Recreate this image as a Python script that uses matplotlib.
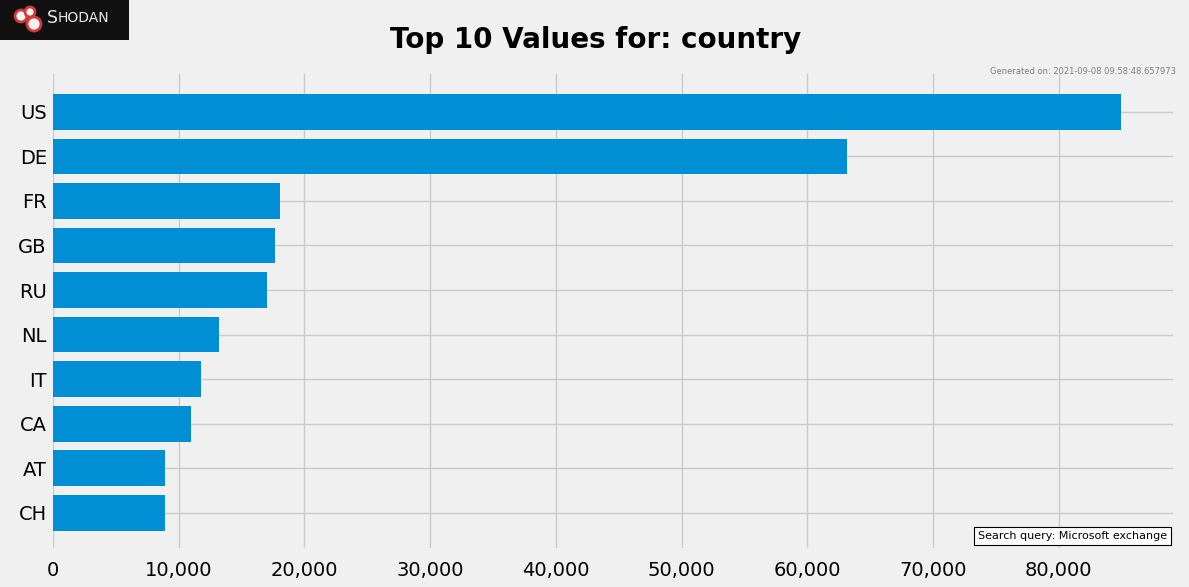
import matplotlib as mpl
mpl.use("Agg")
import matplotlib.pyplot as plt
from matplotlib.patches import Rectangle, Circle
from matplotlib.ticker import FuncFormatter

countries = ["US", "DE", "FR", "GB", "RU", "NL", "IT", "CA", "AT", "CH"]
counts = [85000, 63200, 18050, 17650, 17050, 13200, 11800, 11000, 8900, 8900]
generated = "Generated on: 2021-09-08 09:58:48.657973"
query = "Search query: Microsoft exchange"

plt.style.use("fivethirtyeight")
fig = plt.figure(figsize=(11.89, 5.87), dpi=100, facecolor="#f0f0f0")
ax = fig.add_axes([53/1189, 1-548/587, 1120/1189, 475/587])
ax.set_facecolor("#f0f0f0")

ax.barh(countries, counts, height=0.8, color="#008fd5", zorder=3)
ax.set_ylim(9.79, -0.87)
ax.set_xlim(0, 89100)
ax.xaxis.set_major_formatter(FuncFormatter(lambda v, p: f"{int(v):,}"))
ax.tick_params(axis="both", labelsize=14, length=0)
ax.tick_params(axis="x", pad=9)
ax.tick_params(axis="y", pad=4.5)
ax.grid(True, color="#cbcbcb", lw=1.0, zorder=0)
for s in ax.spines.values():
    s.set_visible(False)

fig.text(596/1189, 1-40/587, "Top 10 Values for: country", ha="center", va="center",
         fontsize=20, fontweight="bold")
fig.text(1176/1189, 1-71/587, generated, ha="right", va="center", fontsize=6, color="#808080")
ax.text(0.995, 0.015, query, transform=ax.transAxes, ha="right", va="bottom", fontsize=8,
        bbox=dict(facecolor="white", edgecolor="black", boxstyle="square,pad=0.35", lw=0.8), zorder=5)

# shodan logo box
fig.patches.append(Rectangle((0, 1-40/587), 129/1189, 40/587, transform=fig.transFigure,
                             facecolor="#111111", edgecolor="none"))
for cx, cy, r in [(21, 16, 6), (30, 12, 5), (34, 24, 7)]:
    fig.patches.append(Circle((cx, 587-cy), r, transform=None, facecolor="#f4f4f4",
                              edgecolor="#d43a3a", lw=2.0))
fig.text(47/1189, 1-18/587, "S", color="#e8e8e8", fontsize=12.5, va="center")
fig.text(58/1189, 1-18.5/587, "HODAN", color="#e8e8e8", fontsize=10, va="center")

fig.savefig("out.png", dpi=100, facecolor="#f0f0f0")
